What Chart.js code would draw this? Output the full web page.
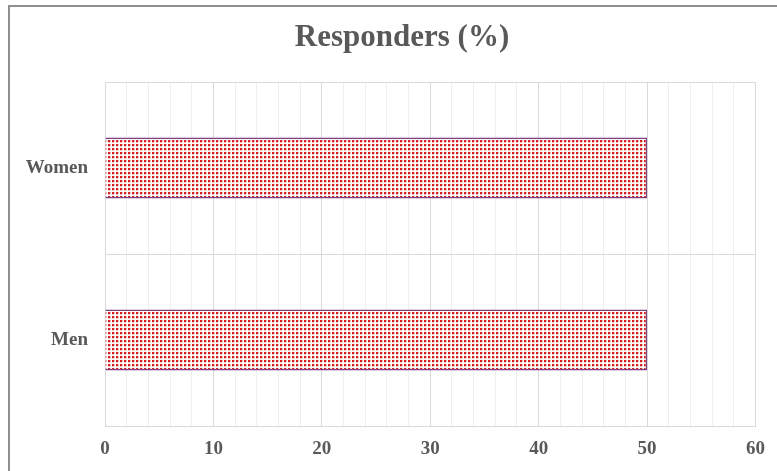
<!DOCTYPE html>
<html>
<head>
<meta charset="utf-8">
<script src="https://cdn.jsdelivr.net/npm/chart.js@4/dist/chart.umd.min.js"></script>
<style>
html,body{margin:0;padding:0;background:#fff;overflow:hidden;}
#frame{position:absolute;left:8px;top:5px;width:820px;height:520px;border:2px solid #8f8f8f;box-sizing:border-box;}
#wrap{position:absolute;left:0;top:0;width:777px;height:471px;}
</style>
</head>
<body>
<div id="frame"></div>
<div id="wrap"><canvas id="c" width="777" height="471"></canvas></div>
<script>
const categories = ['Women', 'Men'];
const responders = [50, 50];
const titleText = 'Responders (%)';
const xMin = 0, xMax = 60, xMinorStep = 2, xMajorStep = 10;

function makePattern() {
  const p = document.createElement('canvas');
  p.width = 4; p.height = 4;
  const g = p.getContext('2d');
  g.fillStyle = '#ffffff'; g.fillRect(0, 0, 4, 4);
  g.fillStyle = '#d42020'; g.fillRect(0, 0, 2, 2);
  g.fillStyle = '#f4b8b8'; g.fillRect(2, 0, 1, 2); g.fillRect(0, 2, 2, 1);
  return document.getElementById('c').getContext('2d').createPattern(p, 'repeat');
}

const textColor = '#595959';
const serif = "'Liberation Serif', 'Times New Roman', serif";

// shift the title block so the title is centred over the outer frame
const titleShift = {
  id: 'titleShift',
  afterLayout(chart) {
    if (chart.titleBlock) { chart.titleBlock.left += 47; }
  }
};

new Chart(document.getElementById('c'), {
  type: 'bar',
  data: {
    labels: categories,
    datasets: [{
      label: titleText,
      data: responders,
      backgroundColor: makePattern(),
      borderColor: '#7e3f80',
      borderWidth: 1.5,
      categoryPercentage: 1,
      barPercentage: 0.355
    }]
  },
  plugins: [titleShift],
  options: {
    indexAxis: 'y',
    responsive: false,
    animation: false,
    layout: { padding: { left: 0, right: 20, top: 0, bottom: 0 } },
    plugins: {
      legend: { display: false },
      tooltip: { enabled: false },
      title: {
        display: true,
        text: titleText,
        color: textColor,
        font: { family: serif, size: 31, weight: 'bold', lineHeight: 1.2 },
        padding: { top: 19, bottom: 25.8 }
      }
    },
    scales: {
      x: {
        min: xMin, max: xMax,
        ticks: {
          stepSize: xMinorStep,
          autoSkip: false,
          maxRotation: 0,
          color: textColor,
          padding: 12,
          font: { family: serif, size: 19, weight: 'bold' },
          callback: v => (v % xMajorStep === 0 ? String(v) : '')
        },
        grid: {
          drawTicks: false,
          color: ctx => (ctx.tick && ctx.tick.value % xMajorStep === 0 ? '#d9d9d9' : '#efefef'),
          lineWidth: 1
        },
        border: { color: '#d9d9d9' },
        afterFit: s => { s.height = 45; }
      },
      y: {
        ticks: {
          color: textColor,
          padding: 17,
          font: { family: serif, size: 19, weight: 'bold' }
        },
        grid: { drawTicks: false, offset: true, color: '#d9d9d9' },
        border: { color: '#d9d9d9' },
        afterFit: s => { s.width = 105; }
      }
    }
  }
});
</script>
</body>
</html>
